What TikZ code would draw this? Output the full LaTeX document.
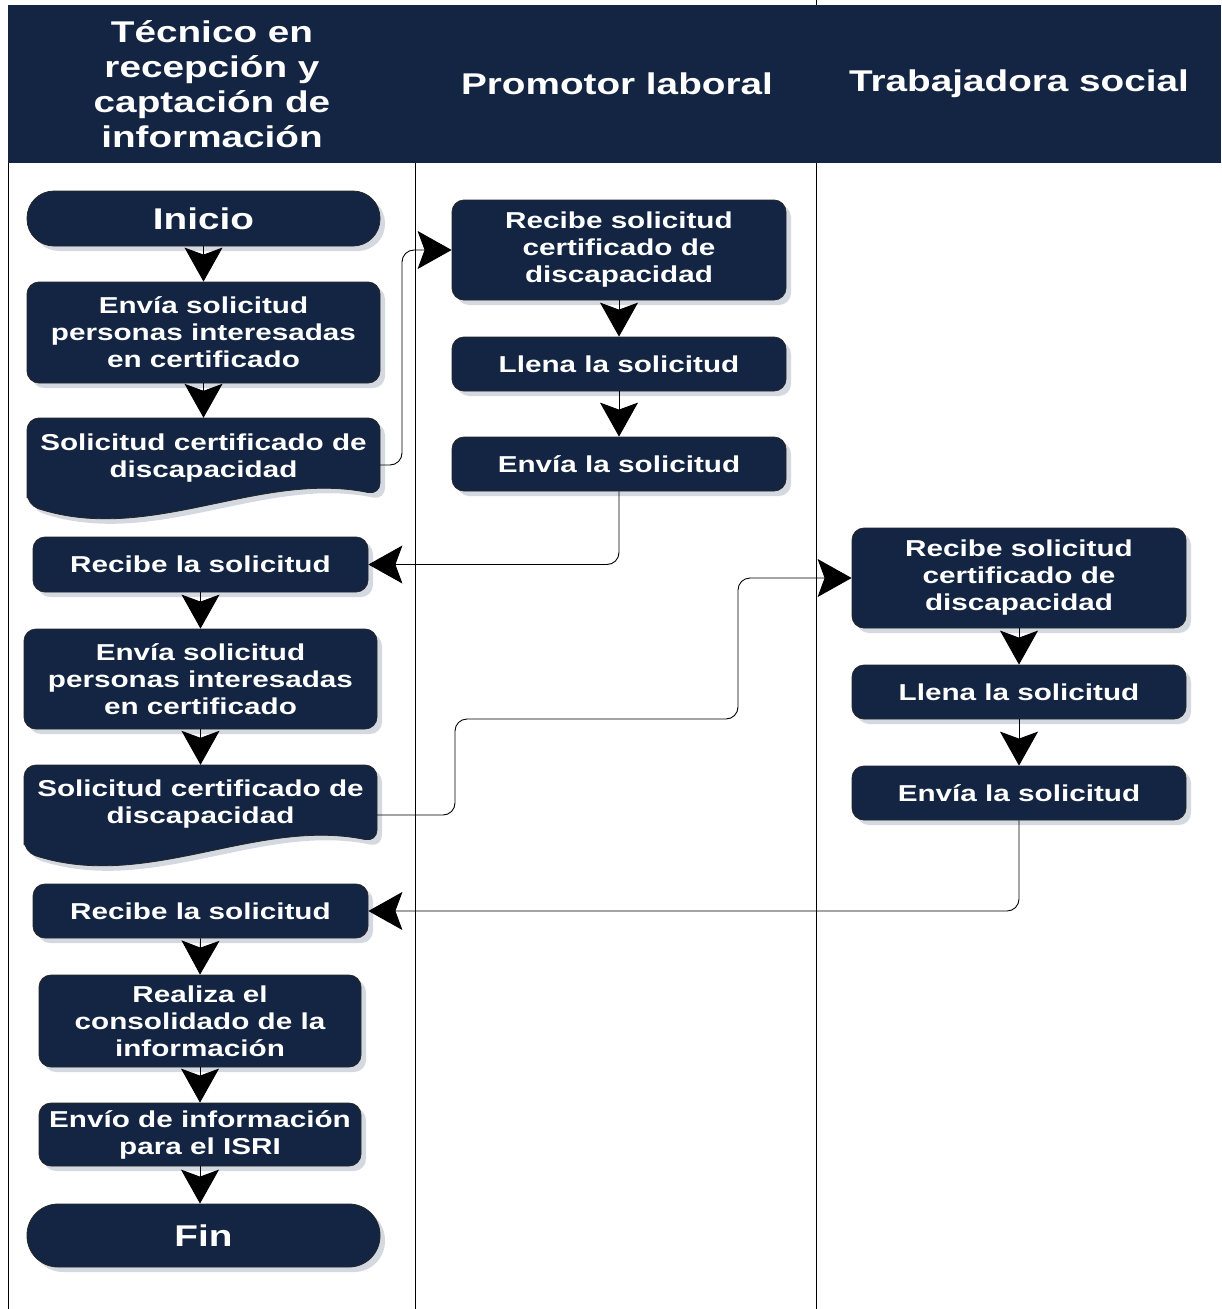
\documentclass[tikz,border=0pt]{standalone}
\usepackage{fontspec}
\setmainfont{Liberation Sans}[FakeStretch=1.29]
\usetikzlibrary{arrows.meta,shadows}

\definecolor{navy}{RGB}{19,37,66}
\definecolor{shade}{RGB}{212,217,225}

% draws a document-style box: #1 = left x, #2 = top y
\newcommand\docpath[2]{%
  \path[docshape] (#1,#2+87) -- (#1,#2) -- (#1+353,#2) -- (#1+353,#2+77)
    .. controls (#1+233,#2+52) and (#1+123,#2+127) .. (#1,#2+87) -- cycle;}

\tikzset{
  every node/.style={text=white, align=center, inner sep=0pt},
  boxfont/.style={font=\fontsize{23}{27}\selectfont\bfseries},
  shadowed/.style={drop shadow={shadow xshift=5pt, shadow yshift=-5pt, fill=shade, opacity=1}},
  proc/.style={boxfont, rectangle, rounded corners=12pt, fill=navy,
    draw=black!85, line width=0.8pt, shadowed},
  term/.style={proc, rounded corners=27pt, font=\fontsize{30}{35}\selectfont\bfseries},
  docshape/.style={fill=navy, draw=black!85, line width=0.8pt, rounded corners=12pt, shadowed},
  doctext/.style={boxfont},
  lanetitle/.style={font=\fontsize{30}{35}\selectfont\bfseries},
  flow/.style={draw=black, line width=0.9pt, rounded corners=12pt,
    -{Stealth[length=34pt,width=38pt,inset=7pt]}},
  border/.style={draw=black, line width=1pt},
}

\begin{document}
\begin{tikzpicture}[x=1pt, y=-1pt]
\useasboundingbox (0,0) rectangle (1221,1309);

% lane borders
\draw[border] (8,5) -- (8,1309);
\draw[border] (415,163) -- (415,1309);
\draw[border] (816,0) -- (816,1309);

% header band
\fill[navy] (8,5) rectangle (1221,163);
\node[lanetitle] (h1) at (212,84) {Técnico en\\recepción y\\captación de\\información};
\node[lanetitle] (h2) at (617,84) {Promotor laboral};
\node[lanetitle] (h3) at (1019,84) {Trabajadora social};

% first lane
\node[term, minimum width=353pt, minimum height=55pt] (a1) at (203.5,218.5) {Inicio};
\node[proc, minimum width=353pt, minimum height=101pt] (a2) at (203.5,332.5)
  {Envía solicitud\\personas interesadas\\en certificado};
\docpath{27}{418}
\node[minimum width=353pt, minimum height=94pt] (d1) at (203.5,465) {};
\node[doctext] (d1t) at (203.5,458) {Solicitud certificado de\\discapacidad};
\node[proc, minimum width=335pt, minimum height=55pt] (a4) at (200.5,564.5) {Recibe la solicitud};
\node[proc, minimum width=353pt, minimum height=100pt] (a5) at (200.5,679)
  {Envía solicitud\\personas interesadas\\en certificado};
\docpath{24}{765}
\node[minimum width=353pt, minimum height=100pt] (d2) at (200.5,815) {};
\node[doctext] (d2t) at (200.5,804) {Solicitud certificado de\\discapacidad};
\node[proc, minimum width=335pt, minimum height=54pt] (a7) at (200.5,911) {Recibe la solicitud};
\node[proc, minimum width=322pt, minimum height=92pt] (a8) at (200,1021)
  {Realiza el\\consolidado de la\\información};
\node[proc, minimum width=322pt, minimum height=63pt] (a9) at (200,1134.5)
  {Envío de información\\para el ISRI};
\node[term, minimum width=353pt, minimum height=63pt, rounded corners=31pt] (a10) at (203.5,1235.5) {Fin};

% second lane
\node[proc, minimum width=334pt, minimum height=100pt] (b1) at (619,250)
  {Recibe solicitud\\certificado de\\discapacidad};
\node[proc, minimum width=334pt, minimum height=54pt] (b2) at (619,364) {Llena la solicitud};
\node[proc, minimum width=334pt, minimum height=54pt] (b3) at (619,464) {Envía la solicitud};

% third lane
\node[proc, minimum width=334pt, minimum height=100pt] (c1) at (1019,578)
  {Recibe solicitud\\certificado de\\discapacidad};
\node[proc, minimum width=334pt, minimum height=54pt] (c2) at (1019,692) {Llena la solicitud};
\node[proc, minimum width=334pt, minimum height=54pt] (c3) at (1019,793) {Envía la solicitud};

% flow within lanes
\draw[flow] (a1.south) -- (a2.north);
\draw[flow] (a2.south) -- (d1.north);
\draw[flow] (a4.south) -- (a5.north);
\draw[flow] (a5.south) -- (d2.north);
\draw[flow] (a7.south) -- (a8.north);
\draw[flow] (a8.south) -- (a9.north);
\draw[flow] (a9.south) -- (a9.south |- a10.north);
\draw[flow] (b1.south) -- (b2.north);
\draw[flow] (b2.south) -- (b3.north);
\draw[flow] (c1.south) -- (c2.north);
\draw[flow] (c2.south) -- (c3.north);

% flow between lanes
\draw[flow] (d1.east) -- (402,465) |- (b1.west);
\draw[flow] (b3.south) |- (a4.east);
\draw[flow] (d2.east) -- (455,815) -- (455,719) -- (738,719) |- (c1.west);
\draw[flow] (c3.south) |- (a7.east);
\end{tikzpicture}
\end{document}
